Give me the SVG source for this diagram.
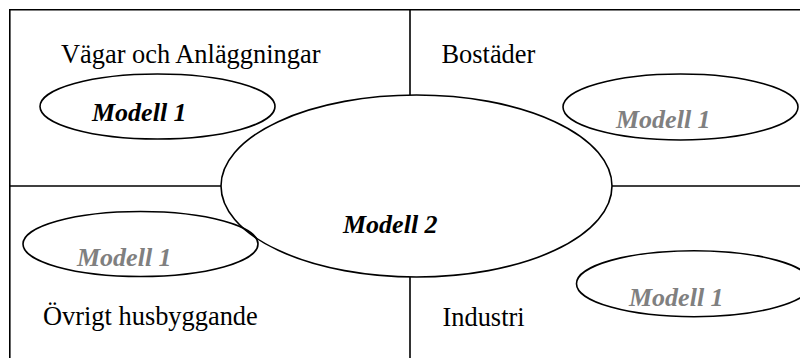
<svg xmlns="http://www.w3.org/2000/svg" width="800" height="358" viewBox="0 0 800 358">
<style>
.ln{stroke:#000;stroke-width:1.6;fill:none}
.el{stroke:#000;stroke-width:1.6;fill:none}
.lbl{font-family:"Liberation Serif","Times New Roman",serif;font-size:26.4px;fill:#000}
.m{font-family:"Liberation Serif","Times New Roman",serif;font-size:26px;font-weight:bold;font-style:italic}
.blk{fill:#000}
.gry{fill:#808080}
</style>
<rect width="800" height="358" fill="#fff"/>
<g id="connectors">
<path class="ln" d="M9.8 358 V9.8 H800"/>
<path class="ln" d="M410 9.8 V95"/>
<path class="ln" d="M410 277 V358"/>
<path class="ln" d="M9.8 186 H221"/>
<path class="ln" d="M612 186 H800"/>
</g>
<g id="quadrant-vagar">
<text class="lbl" x="61" y="63">Vägar och Anläggningar</text>
</g>
<g id="quadrant-bostader">
<text class="lbl" x="441.5" y="63">Bostäder</text>
</g>
<g id="quadrant-ovrigt">
<text class="lbl" x="43" y="325">Övrigt husbyggande</text>
</g>
<g id="quadrant-industri">
<text class="lbl" x="442.5" y="325.5">Industri</text>
</g>
<g id="modell2">
<ellipse class="el" cx="416.5" cy="186" rx="195.5" ry="91"/>
<text class="m blk" x="343" y="233">Modell 2</text>
</g>
<g id="modell1-vagar">
<ellipse class="el" cx="157.5" cy="106.5" rx="117.5" ry="32.5"/>
<text class="m blk" x="92" y="120.5">Modell 1</text>
</g>
<g id="modell1-bostader">
<ellipse class="el" cx="680.5" cy="107" rx="117.5" ry="33"/>
<text class="m gry" x="616" y="128">Modell 1</text>
</g>
<g id="modell1-ovrigt">
<ellipse class="el" cx="140.5" cy="244" rx="117.5" ry="32.5"/>
<text class="m gry" x="77" y="266">Modell 1</text>
</g>
<g id="modell1-industri">
<ellipse class="el" cx="694" cy="283.7" rx="117.5" ry="33"/>
<text class="m gry" x="629" y="306">Modell 1</text>
</g>
</svg>
